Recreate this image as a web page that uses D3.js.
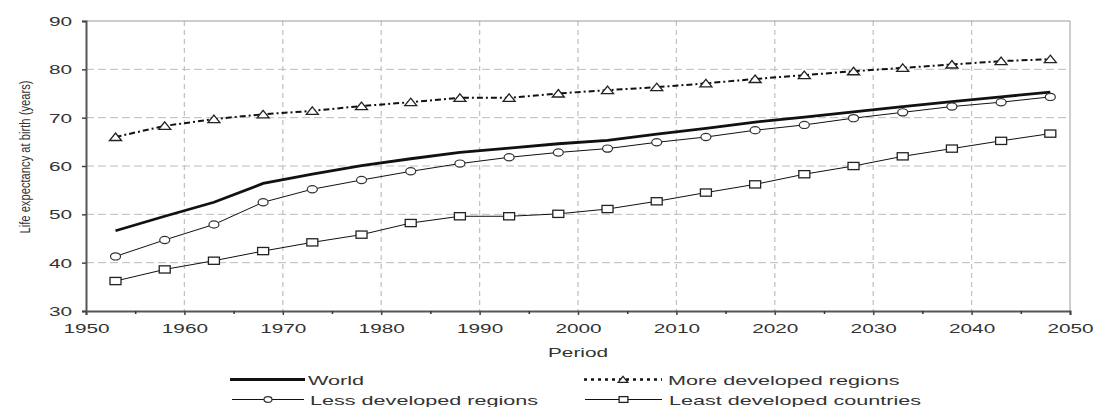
<!DOCTYPE html>
<html><head><meta charset="utf-8">
<script src="https://cdn.jsdelivr.net/npm/d3@7"></script>
<style>body{margin:0;background:#fff}svg{display:block;font-family:"Liberation Sans",Arial,sans-serif}</style>
</head><body><svg id="c" width="1097" height="407"></svg>
<script>
const years = [1953,1958,1963,1968,1973,1978,1983,1988,1993,1998,2003,2008,2013,2018,2023,2028,2033,2038,2043,2048];
const world = [46.6,49.6,52.5,56.4,58.3,60.1,61.5,62.8,63.7,64.6,65.3,66.6,67.8,69.1,70.1,71.2,72.3,73.3,74.3,75.3];
const moreDeveloped = [66.0,68.3,69.7,70.7,71.4,72.4,73.2,74.1,74.1,75.0,75.7,76.3,77.1,78.0,78.8,79.6,80.3,81.0,81.7,82.1];
const lessDeveloped = [41.3,44.7,47.9,52.5,55.2,57.1,58.9,60.5,61.8,62.8,63.6,64.9,66.0,67.4,68.5,69.9,71.1,72.3,73.2,74.3];
const leastDeveloped = [36.2,38.6,40.4,42.4,44.2,45.8,48.2,49.6,49.6,50.1,51.1,52.7,54.5,56.2,58.3,60.0,62.0,63.6,65.2,66.7];
const xTicks = [1950,1960,1970,1980,1990,2000,2010,2020,2030,2040,2050];
const yTicks = [30,40,50,60,70,80,90];
const xLabel = "Period";
const yLabel = "Life expectancy at birth (years)";

const SX = 1.6; // horizontal stretch of the original picture's text
const svg = d3.select("#c");
const L=86,R=1070,T=21,B=311;
const x = d3.scaleLinear().domain([1950,2050]).range([L,R]);
const y = d3.scaleLinear().domain([30,90]).range([B,T]);

// grid
const g = svg.append("g");
g.selectAll(".hg").data(yTicks.filter(v=>v>30&&v<90)).join("line")
 .attr("x1",L).attr("x2",R).attr("y1",d=>y(d)).attr("y2",d=>y(d))
 .attr("stroke","#bdbdbd").attr("stroke-dasharray","8,4").attr("stroke-width",1);
g.selectAll(".vg").data(xTicks.filter(v=>v>1950&&v<2050)).join("line")
 .attr("y1",T).attr("y2",B).attr("x1",d=>x(d)).attr("x2",d=>x(d))
 .attr("stroke","#c4c4c4").attr("stroke-dasharray","5,4").attr("stroke-width",1.3);
// top/right border
svg.append("path").attr("d",`M${L},${T}H${R}V${B}`).attr("fill","none").attr("stroke","#9a9a9a").attr("stroke-width",1);

// axes
const xAxis = d3.axisBottom(x).tickValues(xTicks).tickFormat(d3.format("d")).tickSize(4).tickPadding(0);
const xa = svg.append("g").attr("transform",`translate(0,${B})`).call(xAxis);
const xMinor = d3.axisBottom(x).tickValues(d3.range(1955,2050,10)).tickFormat("").tickSize(3);
svg.append("g").attr("transform",`translate(0,${B})`).call(xMinor).call(s=>s.select(".domain").remove())
 .selectAll("line").attr("stroke","#333").attr("stroke-width",1.5);
const yAxis = d3.axisLeft(y).tickValues(yTicks).tickSize(4).tickPadding(0);
const ya = svg.append("g").attr("transform",`translate(${L},0)`).call(yAxis);
[xa,ya].forEach(a=>{
  a.select(".domain").attr("stroke","#555").attr("stroke-width",2);
  a.selectAll(".tick line").attr("stroke","#444").attr("stroke-width",1.5);
  a.selectAll("text").attr("font-size",13).attr("fill","#333").attr("font-family","Liberation Sans, Arial, sans-serif");
});
xa.selectAll("text").attr("y",22).attr("dy",0).attr("transform",`scale(${SX},1)`);
ya.selectAll("text").attr("x",-14/SX).attr("dy","0.35em").attr("transform",`scale(${SX},1)`);

function stretchedText(px, py, str, size, anchor){
  return svg.append("text").attr("transform",`translate(${px},${py}) scale(${SX},1)`)
    .attr("text-anchor",anchor||"start").attr("font-size",size).attr("fill","#333").text(str);
}
stretchedText(578, 357, xLabel, 13, "middle");
svg.append("text").attr("transform",`translate(30,157) rotate(-90) scale(1,1.35)`).attr("text-anchor","middle")
 .attr("font-size",11.2).attr("fill","#333").text(yLabel);

const line = d3.line().x((d,i)=>x(years[i])).y(d=>y(d));
const series = [
  {name:"World", data:world, w:2.8, dash:null, marker:null},
  {name:"More developed regions", data:moreDeveloped, w:2, dash:"6,3,2,3", marker:"tri"},
  {name:"Less developed regions", data:lessDeveloped, w:1, dash:null, marker:"circ"},
  {name:"Least developed countries", data:leastDeveloped, w:1, dash:null, marker:"sq"}
];
function marker(sel, type, k){
  k = k||1;
  if(type==="tri") sel.append("path").attr("d",`M0,${-4*k}L${6*k},${3.5*k}L${-6*k},${3.5*k}Z`).attr("fill","#fff").attr("stroke","#222").attr("stroke-width",1.3);
  if(type==="circ") sel.append("ellipse").attr("rx",5*k).attr("ry",3.6*k).attr("fill","#fff").attr("stroke","#333").attr("stroke-width",1.2);
  if(type==="sq") sel.append("rect").attr("x",-5.5*k).attr("y",-3.6*k).attr("width",11*k).attr("height",7.2*k).attr("fill","#fff").attr("stroke","#222").attr("stroke-width",1.3);
}
series.forEach(s=>{
  svg.append("path").datum(s.data).attr("d",line).attr("fill","none").attr("stroke","#111")
   .attr("stroke-width",s.w).attr("stroke-dasharray",s.dash);
  if(s.marker){
    svg.selectAll(null).data(s.data).join("g").attr("transform",(d,i)=>`translate(${x(years[i])},${y(d)})`)
     .each(function(){marker(d3.select(this),s.marker);});
  }
});

// legend
const leg = [
  {s:series[0], x1:230, x2:305, y:379.5, tx:308},
  {s:series[1], x1:584, x2:662, y:379.5, tx:668},
  {s:series[2], x1:232, x2:304, y:399.5, tx:310},
  {s:series[3], x1:585, x2:662, y:399.5, tx:669}
];
leg.forEach(l=>{
  svg.append("line").attr("x1",l.x1).attr("x2",l.x2).attr("y1",l.y).attr("y2",l.y).attr("stroke","#111")
   .attr("stroke-width",l.s.name==="World"?3:(l.s.marker==="tri"?2.5:1)).attr("stroke-dasharray",l.s.marker==="tri"?"3,4":null);
  if(l.s.marker){const m=svg.append("g").attr("transform",`translate(${(l.x1+l.x2)/2},${l.y})`);marker(m,l.s.marker,0.8);}
  stretchedText(l.tx, l.y+5.5, l.s.name, 13.5, "start");
});
</script></body></html>
